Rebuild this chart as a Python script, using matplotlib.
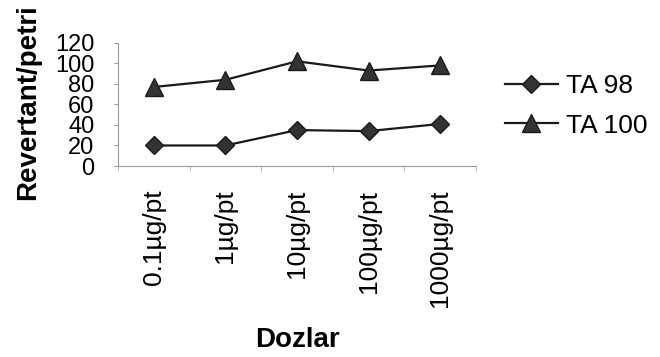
import matplotlib.pyplot as plt
import numpy as np

plt.rcParams["font.family"] = ["Liberation Sans", "DejaVu Sans"]

# doses and revertant counts per petri dish
dozlar = ["0.1µg/pt", "1µg/pt", "10µg/pt", "100µg/pt", "1000µg/pt"]
ta98 = [20, 20, 35, 34, 41]
ta100 = [77, 84, 102, 93, 98]
yticks = [0, 20, 40, 60, 80, 100, 120]

fig = plt.figure(figsize=(6.6, 3.57), dpi=100)
ax = fig.add_axes([0.179, 0.535, 0.542, 0.345])

x = np.arange(len(dozlar))
ax.plot(x, ta98, color="#1a1a1a", lw=1.6, marker="D", ms=9,
        mfc="#333333", mec="#1a1a1a", label="TA 98")
ax.plot(x, ta100, color="#1a1a1a", lw=1.6, marker="^", ms=12.5,
        mfc="#333333", mec="#1a1a1a", label="TA 100")

ax.set_xlim(-0.5, len(dozlar) - 0.5)
ax.set_ylim(0, 120)
ax.set_yticks(yticks)
ax.set_yticklabels([str(v) for v in yticks], fontsize=17)
ax.set_xticks(x)
ax.set_xticklabels(dozlar, rotation=90, fontsize=19)
ax.tick_params(axis="x", length=0, pad=17)
ax.tick_params(axis="y", length=3, color="#999999", pad=14)
ax.set_xticks(np.arange(len(dozlar) + 1) - 0.5, minor=True)
ax.tick_params(axis="x", which="minor", length=4, color="#bbbbbb")

for side in ["top", "right"]:
    ax.spines[side].set_visible(False)
for side in ["left", "bottom"]:
    ax.spines[side].set_color("#999999")
    ax.spines[side].set_linewidth(0.8)
    ax.spines[side].set_linestyle((0, (3, 1)))

ax.set_ylabel("Revertant/petri", fontsize=20, fontweight="bold")
ax.yaxis.set_label_coords(-0.215, 0.52)
fig.text(0.45, 0.047, "Dozlar", fontsize=20, fontweight="bold",
         ha="center", va="center")

leg = ax.legend(loc="center left", bbox_to_anchor=(1.015, 0.49), frameon=False,
                fontsize=19, handlelength=2.0, labelspacing=0.6,
                handletextpad=0.3)

fig.savefig("out.png", dpi=100)
